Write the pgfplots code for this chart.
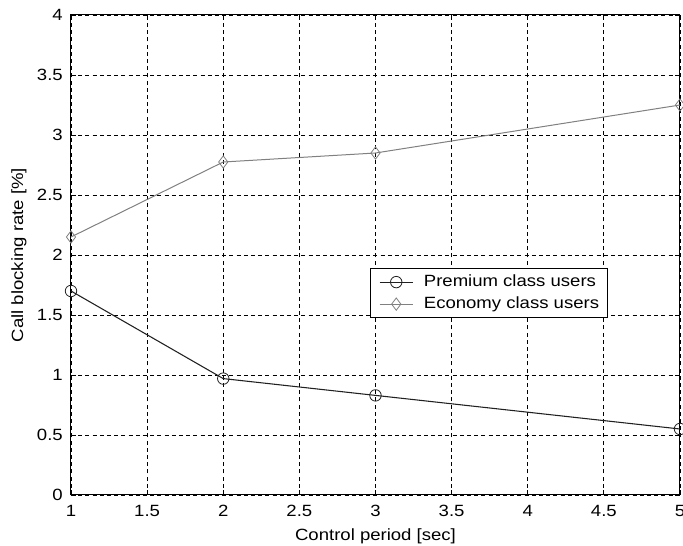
\documentclass[border=0pt]{standalone}
\usepackage{fontspec}
\setmainfont{Liberation Sans}[FakeStretch=1.14]
\usepackage{pgfplots}
\pgfplotsset{compat=1.18}

\definecolor{premium}{HTML}{202020}
\definecolor{economy}{HTML}{808080}

\begin{document}
\fontsize{12.2pt}{14pt}\selectfont
\begin{tikzpicture}
\begin{axis}[
  at={(0,0)}, anchor=south west,
  scale only axis,
  width=456.75pt, height=360pt,
  xmin=1, xmax=5, ymin=0, ymax=4,
  xtick={1,1.5,...,5},
  ytick={0,0.5,...,4},
  /pgf/number format/assume math mode=true,
  tick align=inside,
  xtick pos=both, ytick pos=both,
  major tick length=4pt,
  tick style={black, line width=0.6pt},
  axis line style={black, line width=0.75pt},
  grid=major,
  major grid style={black, line width=0.6pt, dash pattern=on 3pt off 2.4pt},
  xticklabel style={anchor=base, inner sep=0pt, yshift=-16.5pt},
  yticklabel style={anchor=east, inner sep=0pt, xshift=-6pt},
  xlabel={Control period [sec]},
  ylabel={Call blocking rate [\%]},
  xlabel style={at={(axis description cs:0.5,-0.0958)}, anchor=base},
  ylabel style={at={(axis description cs:-0.0854,0.5)}, anchor=center, rotate=0},
  legend cell align=left,
  legend style={
    at={(axis description cs:0.491,0.473)}, anchor=north west,
    draw=black, line width=0.75pt, fill=white,
    inner xsep=6.5pt, inner ysep=2pt, column sep=8pt,
    nodes={text height=9pt, text depth=2.5pt, inner ysep=2.5pt, inner xsep=0pt},
  },
  legend image code/.code={%
    \draw[mark repeat=2, mark phase=2] plot coordinates {(0pt,0pt) (12.4pt,0pt) (24.75pt,0pt)};},
]
\addplot[premium, line width=0.8pt, mark=o, mark size=4.3pt,
         mark options={solid, line width=0.6pt}]
  coordinates {(1,1.70) (2,0.97) (3,0.83) (5,0.55)};
\addlegendentry{Premium class users}
\addplot[economy, line width=0.75pt, mark=diamond, mark size=4.6pt,
         mark options={solid, line width=0.6pt}]
  coordinates {(1,2.15) (2,2.775) (3,2.85) (5,3.25)};
\addlegendentry{Economy class users}
\end{axis}
\pgfresetboundingbox
\path (-53.25pt,-38.25pt) rectangle (459pt,371.25pt);
\end{tikzpicture}
\end{document}
